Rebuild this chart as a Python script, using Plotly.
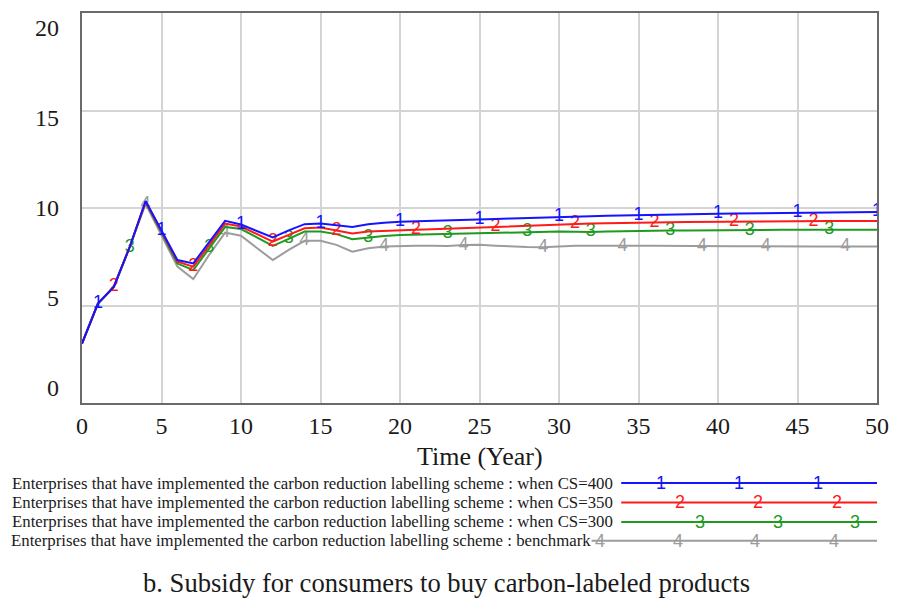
import plotly.graph_objects as go

# Simulation horizon (years)
years = list(range(0, 51))

# Enterprises that have implemented the carbon reduction labelling scheme
cs400 = [3.05, 5.10, 5.95, 8.00, 10.36, 8.85, 7.33, 7.16, 8.25, 9.34,
         9.15, 8.82, 8.49, 8.85, 9.17, 9.20, 9.13, 9.03, 9.17, 9.25,
         9.29, 9.32, 9.34, 9.37, 9.40, 9.42, 9.44, 9.46, 9.49, 9.52,
         9.54, 9.56, 9.58, 9.60, 9.62, 9.64, 9.65, 9.66, 9.68, 9.70,
         9.71, 9.72, 9.73, 9.74, 9.75, 9.76, 9.77, 9.78, 9.79, 9.79, 9.80]
cs350 = [3.05, 5.10, 5.95, 8.00, 10.33, 8.80, 7.25, 6.99, 8.10, 9.20,
         9.05, 8.66, 8.28, 8.62, 8.96, 9.00, 8.86, 8.69, 8.79, 8.83,
         8.86, 8.89, 8.91, 8.94, 8.97, 9.00, 9.03, 9.06, 9.10, 9.14,
         9.17, 9.19, 9.21, 9.22, 9.24, 9.25, 9.26, 9.27, 9.28, 9.29,
         9.30, 9.30, 9.31, 9.31, 9.32, 9.32, 9.32, 9.33, 9.33, 9.33, 9.33]
cs300 = [3.05, 5.10, 5.95, 8.00, 10.30, 8.75, 7.15, 6.82, 7.95, 9.03,
         8.92, 8.47, 8.06, 8.42, 8.79, 8.79, 8.66, 8.40, 8.49, 8.56,
         8.62, 8.64, 8.66, 8.68, 8.70, 8.71, 8.73, 8.75, 8.77, 8.78,
         8.79, 8.78, 8.77, 8.80, 8.82, 8.83, 8.84, 8.85, 8.85, 8.86,
         8.86, 8.87, 8.87, 8.87, 8.88, 8.88, 8.88, 8.88, 8.88, 8.88, 8.88]
benchmark = [3.05, 5.10, 5.95, 8.00, 10.20, 8.60, 7.00, 6.36, 7.60, 8.74,
             8.58, 7.95, 7.33, 7.85, 8.32, 8.32, 8.11, 7.76, 7.94, 8.03,
             8.06, 8.07, 8.06, 8.05, 8.10, 8.11, 8.07, 8.02, 8.00, 7.99,
             8.04, 8.06, 8.06, 8.05, 8.05, 8.06, 8.06, 8.05, 8.04, 8.04,
             8.05, 8.04, 8.04, 8.03, 8.03, 8.03, 8.03, 8.03, 8.03, 8.03, 8.03]

# Years at which each run carries its number tag along the curve
tag_years_1 = [1, 5, 10, 15, 20, 25, 30, 35, 40, 45, 50]
tag_years_2 = [2, 7, 12, 16, 21, 26, 31, 36, 41, 46]
tag_years_3 = [3, 8, 13, 18, 23, 28, 32, 37, 42, 47]
tag_years_4 = [4, 9, 14, 19, 24, 29, 34, 39, 43, 48]

series_names = [
    "Enterprises that have implemented the carbon reduction labelling scheme : when CS=400",
    "Enterprises that have implemented the carbon reduction labelling scheme : when CS=350",
    "Enterprises that have implemented the carbon reduction labelling scheme : when CS=300",
    "Enterprises that have implemented the carbon reduction labelling scheme : benchmark",
]
x_tick_values = list(range(0, 51, 5))
y_tick_values = [0, 5, 10, 15, 20]

x_title = "Time (Year)"
caption = "b. Subsidy for consumers to buy carbon-labeled products"

BLUE = "#1414ff"
RED = "#ff1a1a"
GREEN = "#1f9a1f"
GRAY = "#9c9c9c"
SERIF = "Liberation Serif, Times New Roman, serif"
SANS = "Liberation Sans, Arial, sans-serif"

runs = [
    ("1", cs400, tag_years_1, BLUE),
    ("2", cs350, tag_years_2, RED),
    ("3", cs300, tag_years_3, GREEN),
    ("4", benchmark, tag_years_4, GRAY),
]

# Plot area in pixels (for the legend block laid out under the axes)
W, H = 900, 600
L, R, T, B = 82, 13, 11, 197
PW, PH = W - L - R, H - T - B


def px_x(px):
    return (px - L) / PW


def px_y(py):
    return (H - B - py) / PH


fig = go.Figure()

# Draw the benchmark first so the CS=400 run ends up on top
for num, vals, tags, col in reversed(runs):
    labels = [num if t in tags else "" for t in years]
    fig.add_trace(go.Scatter(
        x=years, y=vals, mode="lines+text", text=labels,
        textposition="middle center",
        textfont=dict(family=SANS, size=18, color=col),
        line=dict(color=col, width=2),
        showlegend=False, hoverinfo="skip",
    ))

annotations = []

# y tick labels (spread slightly inward from the frame)
for v in y_tick_values:
    annotations.append(dict(
        x=0, xref="paper", y=v, yref="y", xanchor="right", yanchor="middle",
        xshift=-21, yshift=(10 - v) * 1.5, showarrow=False, text=str(v),
        font=dict(family=SERIF, size=24, color="#1a1a1a"),
    ))

annotations.append(dict(
    x=0.5, xref="paper", y=px_y(457), yref="paper", xanchor="center",
    yanchor="middle", showarrow=False, text=x_title,
    font=dict(family=SERIF, size=26, color="#1a1a1a"),
))

# Legend block: label, sample line with its number tags
legend_rows = [
    dict(y=483.5, text_right=622, line_left=628, tag_px=[668, 747, 827]),
    dict(y=503.0, text_right=622, line_left=628, tag_px=[688, 767, 847]),
    dict(y=522.5, text_right=622, line_left=628, tag_px=[708, 787, 865]),
    dict(y=541.5, text_right=599, line_left=598, tag_px=[607, 685, 763, 843]),
]
shapes = []
for (num, _, _, col), name, row in zip(runs, series_names, legend_rows):
    annotations.append(dict(
        x=px_x(row["text_right"]), xref="paper", y=px_y(row["y"]), yref="paper",
        xanchor="right", yanchor="middle", showarrow=False, text=name,
        font=dict(family=SERIF, size=16.8, color="#1a1a1a"),
    ))
    shapes.append(dict(
        type="line", xref="paper", yref="paper",
        x0=px_x(row["line_left"]), x1=1.0, y0=px_y(row["y"]), y1=px_y(row["y"]),
        line=dict(color=col, width=2),
    ))
    for p in row["tag_px"]:
        annotations.append(dict(
            x=px_x(p), xref="paper", y=px_y(row["y"]), yref="paper",
            xanchor="center", yanchor="middle", showarrow=False, text=num,
            font=dict(family=SANS, size=18, color=col),
        ))

annotations.append(dict(
    x=px_x(451), xref="paper", y=px_y(584), yref="paper", xanchor="center",
    yanchor="middle", showarrow=False, text=caption,
    font=dict(family=SERIF, size=26.6, color="#1a1a1a"),
))

fig.update_layout(
    width=W, height=H,
    margin=dict(l=L, r=R, t=T, b=B),
    paper_bgcolor="white", plot_bgcolor="white",
    annotations=annotations, shapes=shapes,
    xaxis=dict(
        range=[0, 50], tickvals=x_tick_values, showgrid=True,
        gridcolor="#d4d4d4", gridwidth=1.5, zeroline=False,
        showline=True, mirror=True, linecolor="#6a6a6a", linewidth=2,
        ticks="", tickfont=dict(family=SERIF, size=24, color="#1a1a1a"),
        ticklabelstandoff=0,
    ),
    yaxis=dict(
        range=[0, 20], tickvals=y_tick_values, showgrid=True,
        gridcolor="#d4d4d4", gridwidth=1.5, zeroline=False,
        showline=True, mirror=True, linecolor="#6a6a6a", linewidth=2,
        ticks="", showticklabels=False,
    ),
)

fig.write_html("out.html")
